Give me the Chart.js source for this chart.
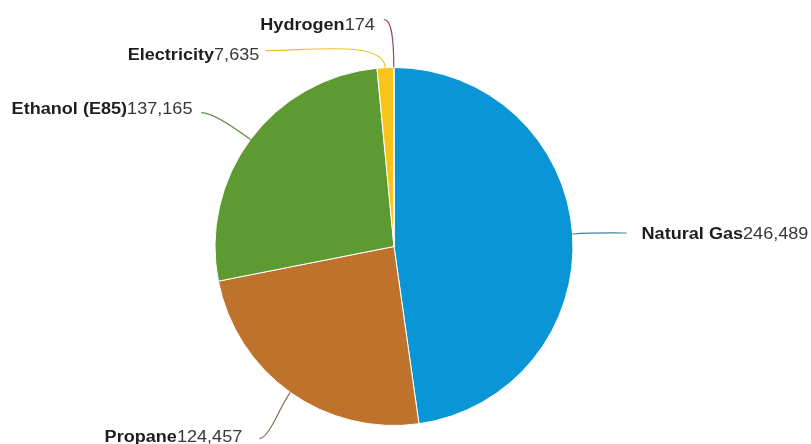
<!DOCTYPE html>
<html lang="en">
<head>
  <meta charset="utf-8">
  <title>Alternative Fuel Vehicles in Use</title>
  <script type="text/javascript" src="https://cdn.jsdelivr.net/npm/chart.js"></script>
  <style>
    html, body { margin: 0; padding: 0; background: #fff; }
    #wrap { width: 811px; height: 444px; position: relative; }
  </style>
</head>
<body>
<div id="wrap"><canvas id="chart"></canvas></div>

<script>
  // Vehicles by fuel type
  const fuels = ['Natural Gas', 'Propane', 'Ethanol (E85)', 'Electricity', 'Hydrogen'];
  const vehicles = [246489, 124457, 137165, 7635, 174];

  const sliceColors = ['#0a96d6', '#bf722b', '#5e9a32', '#f8c41a', '#a23b5c'];
  const lineColors = ['#3f7fa6', '#8f6c52', '#5f8a45', '#e9c22c', '#9c4a66'];

  // Callout placement, relative to the outer edge of each slice
  // end: where the leader stops, bend: radial pull, tail: horizontal pull,
  // gap: space between leader and text, lift: baseline offset from leader end
  const calloutLayout = [
    { end: [54, -1],   bend: 20, tail: 10, gap: 15, lift: 6 },
    { end: [-31, 46],  bend: 20, tail: 10, gap: 17, lift: 3.5 },
    { end: [-49, -27], bend: 20, tail: 12, gap: 9,  lift: 1.5 },
    { end: [-120, -17], bend: 28, tail: 45, gap: 6, lift: 9 },
    { end: [-10, -48], bend: 45, tail: 4,  gap: 9,  lift: 10.5 },
  ];

  const fmt = new Intl.NumberFormat('en-US');

  const callouts = {
    id: 'callouts',
    afterDatasetsDraw(chart) {
      const ctx = chart.ctx;
      const arcs = chart.getDatasetMeta(0).data;
      const stretch = 1.13;
      arcs.forEach((arc, i) => {
        const lay = calloutLayout[i];
        const mid = (arc.startAngle + arc.endAngle) / 2;
        const ux = Math.cos(mid), uy = Math.sin(mid);
        const sx = arc.x + ux * arc.outerRadius;
        const sy = arc.y + uy * arc.outerRadius;
        const ex = sx + lay.end[0];
        const ey = sy + lay.end[1];
        const side = lay.end[0] >= 0 ? 1 : -1;

        ctx.save();
        ctx.strokeStyle = lineColors[i];
        ctx.lineWidth = 1.2;
        ctx.beginPath();
        ctx.moveTo(sx, sy);
        ctx.bezierCurveTo(sx + ux * lay.bend, sy + uy * lay.bend,
                          ex - side * lay.tail, ey, ex, ey);
        ctx.stroke();

        // bold name followed by the plain value
        const name = fuels[i];
        const val = fmt.format(vehicles[i]);
        ctx.font = 'bold 16px "Liberation Sans", Arial, sans-serif';
        const wName = ctx.measureText(name).width;
        ctx.font = '16px "Liberation Sans", Arial, sans-serif';
        const wVal = ctx.measureText(val).width;
        const total = (wName + wVal) * stretch;
        const tx = side > 0 ? ex + lay.gap : ex - lay.gap - total;
        const ty = ey + lay.lift;

        ctx.translate(tx, ty);
        ctx.scale(stretch, 1);
        ctx.textAlign = 'left';
        ctx.textBaseline = 'alphabetic';
        ctx.font = 'bold 16px "Liberation Sans", Arial, sans-serif';
        ctx.fillStyle = '#1e1e1e';
        ctx.fillText(name, 0, 0);
        ctx.font = '16px "Liberation Sans", Arial, sans-serif';
        ctx.fillStyle = '#383838';
        ctx.fillText(val, wName, 0);
        ctx.restore();
      });
    }
  };

  new Chart(document.getElementById('chart'), {
    type: 'pie',
    data: {
      labels: fuels,
      datasets: [{
        data: vehicles,
        backgroundColor: sliceColors,
        borderColor: '#ffffff',
        borderWidth: 1,
      }],
    },
    options: {
      responsive: true,
      maintainAspectRatio: false,
      animation: false,
      layout: { padding: { top: 67, bottom: 18, left: 100, right: 123 } },
      plugins: {
        legend: { display: false },
        tooltip: { enabled: false },
      },
    },
    plugins: [callouts],
  });
</script>
</body>
</html>
